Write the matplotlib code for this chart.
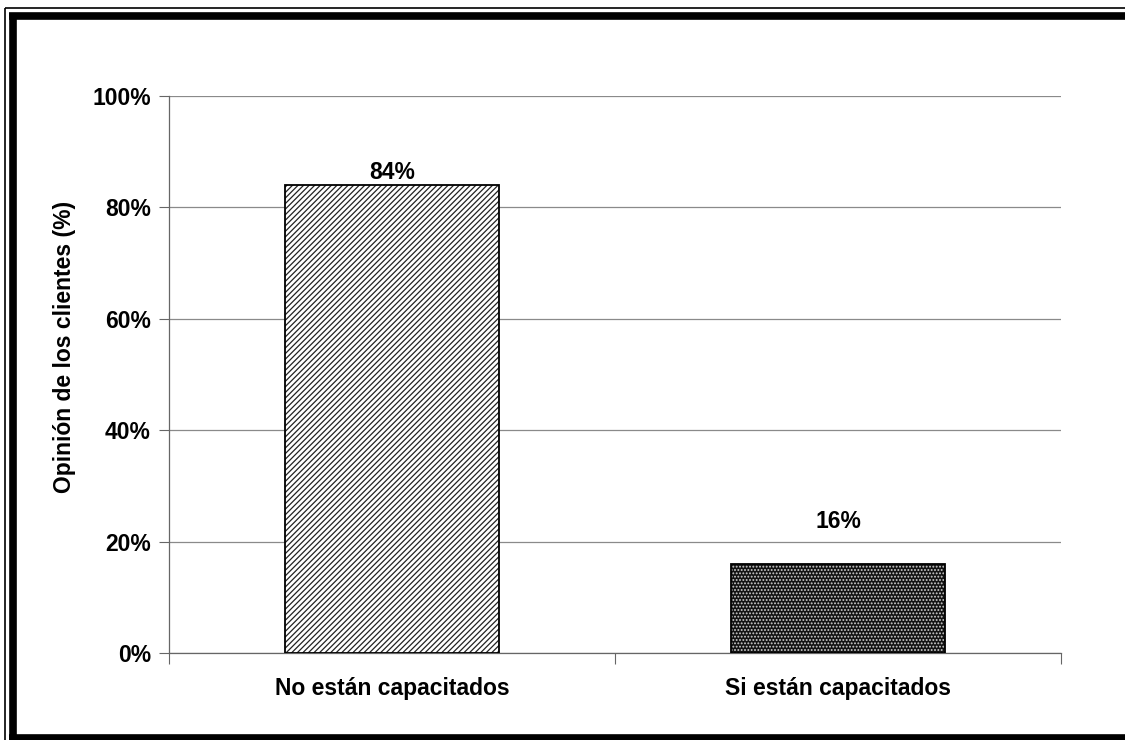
import matplotlib.pyplot as plt
from matplotlib.lines import Line2D
import numpy as np

categories = ['No están capacitados', 'Si están capacitados']
values = [84, 16]
label_offsets = [1, 22]  # points above bar top
yticks = [0, 20, 40, 60, 80, 100]

plt.rcParams['font.family'] = ['Liberation Sans', 'DejaVu Sans']
plt.rcParams['font.weight'] = 'bold'
plt.rcParams['hatch.linewidth'] = 0.9

FS = 16.5

fig = plt.figure(figsize=(11.25, 7.4), dpi=100)
ax = fig.add_axes([0.1502, 0.1176, 0.7929, 0.7527])

x = np.arange(len(categories))
w = 0.48

# first bar: diagonal lines on white
ax.bar(x[0], values[0], w, color='white', edgecolor='#222222', hatch='//////', linewidth=0, zorder=3)
ax.bar(x[0], values[0], w, color='none', edgecolor='black', linewidth=1.3, zorder=4)
# second bar: dark with small light dots
ax.bar(x[1], values[1], w, color='#121212', edgecolor='#d0d0d0', hatch='.....', linewidth=0, zorder=3)
ax.bar(x[1], values[1], w, color='none', edgecolor='black', linewidth=1.3, zorder=4)

for xi, v, off in zip(x, values, label_offsets):
    ax.annotate(f'{v}%', (xi, v), xytext=(0, off), textcoords='offset points',
                ha='center', va='bottom', fontsize=FS, fontweight='bold')

ax.set_xlim(-0.5, 1.5)
ax.set_ylim(0, 100)
ax.set_yticks(yticks)
ax.set_yticklabels([f'{t}%' for t in yticks], fontsize=FS, fontweight='bold')
ax.yaxis.grid(True, color='#8a8a8a', linewidth=0.9)
ax.set_axisbelow(True)

ax.set_xticks([-0.5, 0.5, 1.5])
ax.set_xticklabels([])
ax.set_xticks(x, minor=True)
ax.set_xticklabels(categories, minor=True, fontsize=FS, fontweight='bold')
ax.tick_params(axis='x', which='minor', length=0, pad=17)
ax.tick_params(axis='x', which='major', length=8, color='#666666')
ax.tick_params(axis='y', length=7, color='#666666', pad=6)

ax.set_ylabel('Opinión de los clientes (%)', fontsize=FS, fontweight='bold')
ax.yaxis.set_label_coords(-0.104, 0.549)

for s in ['top', 'right']:
    ax.spines[s].set_visible(False)
for s in ['left', 'bottom']:
    ax.spines[s].set_color('#666666')
    ax.spines[s].set_linewidth(0.9)

# page frame: thin outer rule and heavy inner rule
W, H = 1125, 740
def fline(xs, ys, lw):
    fig.add_artist(Line2D([v / W for v in xs], [1 - v / H for v in ys],
                          transform=fig.transFigure, color='black', linewidth=lw,
                          solid_capstyle='butt'))

fline([5, 5], [8, 740], 1.2)
fline([5, 1125], [8, 8], 1.2)
fline([12.5, 12.5], [16, 740], 5.5)
fline([9, 1125], [16, 16], 5.5)
fline([9, 1125], [738, 738], 5.5)

fig.savefig('out.png', dpi=100)
